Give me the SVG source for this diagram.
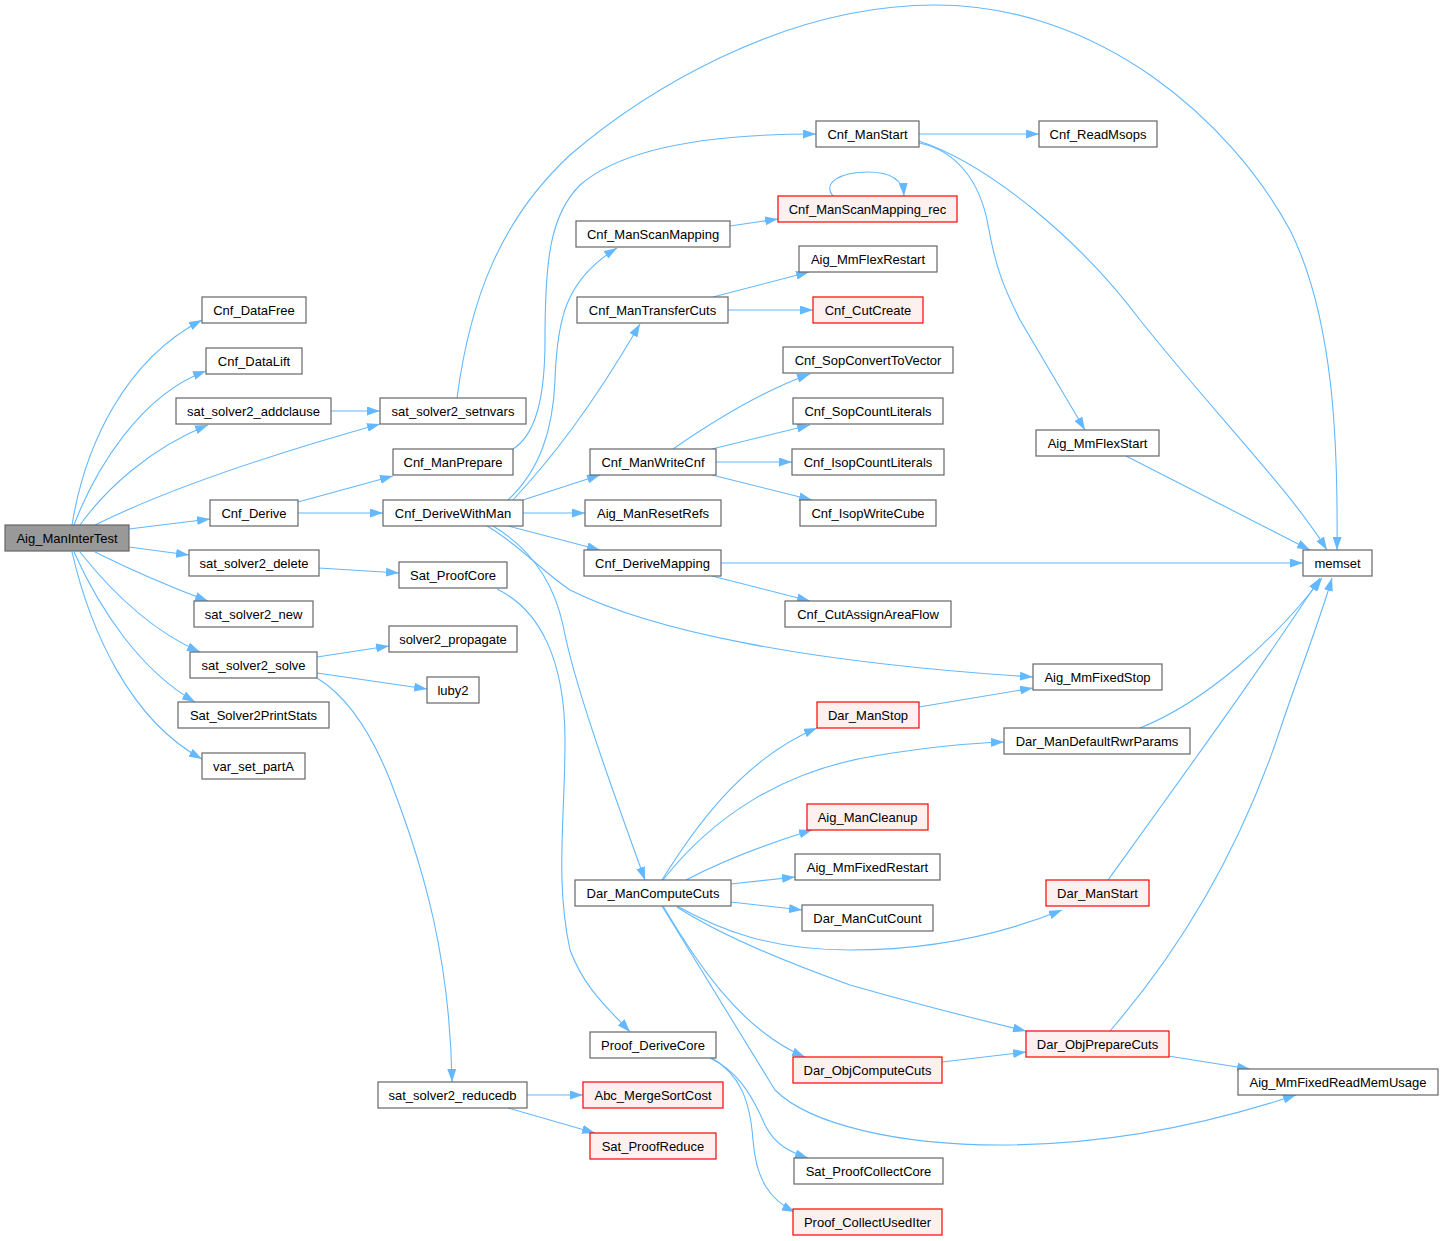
<svg xmlns="http://www.w3.org/2000/svg" width="1443" height="1241" viewBox="0 0 1443 1241">
<style>
.n rect{fill:#ffffff;stroke:#666666;stroke-width:1.2}
.r rect{fill:#fff0f0;stroke:#ff0000;stroke-width:1.2}
.root rect{fill:#999999;stroke:#666666;stroke-width:1.2}
text{font-family:"Liberation Sans",Arial,sans-serif;font-size:13px;fill:#000000;text-anchor:middle}
.e path{fill:none;stroke:#63b8ff;stroke-width:1.1;marker-end:url(#ah)}
</style>
<defs>
<marker id="ah" viewBox="0 0 13 9" markerWidth="13" markerHeight="9" refX="13" refY="4.5" orient="auto" markerUnits="userSpaceOnUse">
<polygon points="0,0 13,4.5 0,9" fill="#63b8ff"/>
</marker>
</defs>
<rect width="1443" height="1241" fill="#ffffff"/>
<g class="e" id="edges">
<path d="M72,525 C85,445 125,360 202,320"/>
<path d="M74,525 C95,470 140,395 206,371"/>
<path d="M80,525 C105,490 150,448 208,425"/>
<path d="M95,525 C170,488 280,452 380,424"/>
<path d="M129,529 L210,519"/>
<path d="M129,547 L189,555"/>
<path d="M95,552 C125,567 165,585 208,601"/>
<path d="M80,552 C110,590 150,630 200,652"/>
<path d="M74,552 C100,610 140,670 195,702"/>
<path d="M72,552 C90,630 130,720 202,759"/>
<path d="M331,411 L380,411"/>
<path d="M457,398 C470,300 500,220 570,155 C640,95 780,5 935,5 C1100,5 1230,120 1290,230 C1335,320 1338,450 1337,550"/>
<path d="M298,502 L393,476"/>
<path d="M298,513 L383,513"/>
<path d="M513,449 C535,435 545,400 545,340 C545,260 550,215 580,185 C620,150 700,134 816,134"/>
<path d="M508,500 C540,470 553,430 555,380 C557,320 565,280 617,248"/>
<path d="M513,500 C550,460 590,410 640,324"/>
<path d="M523,500 L600,475"/>
<path d="M523,513 L585,513"/>
<path d="M508,526 L600,550"/>
<path d="M487,526 C520,545 540,570 570,590 C650,630 800,662 1033,677"/>
<path d="M493,526 C525,545 552,575 563,625 C575,690 620,810 645,880"/>
<path d="M319,568 L399,573"/>
<path d="M497,589 C540,610 565,660 565,740 C565,820 555,880 570,950 C585,990 610,1010 630,1032"/>
<path d="M317,657 L389,646"/>
<path d="M317,673 L427,689"/>
<path d="M317,678 C345,695 370,730 390,780 C425,870 450,960 452,1082"/>
<path d="M527,1095 L583,1095"/>
<path d="M508,1108 L595,1133"/>
<path d="M710,1058 C735,1070 750,1090 765,1125 C775,1145 790,1152 808,1158"/>
<path d="M712,1058 C740,1075 750,1100 753,1140 C756,1180 770,1200 795,1212"/>
<path d="M919,134 L1039,134"/>
<path d="M919,143 C955,150 980,180 988,225 C996,270 1005,290 1020,320 L1085,430"/>
<path d="M919,141 C990,165 1080,240 1140,320 C1220,420 1290,490 1327,550"/>
<path d="M730,226 L778,219"/>
<path d="M833,196 C822,183 840,172 868,172 C890,172 903,180 904,196"/>
<path d="M713,297 L809,272"/>
<path d="M728,310 L813,310"/>
<path d="M673,449 C715,420 765,390 810,374"/>
<path d="M712,449 L810,425"/>
<path d="M716,462 L792,462"/>
<path d="M712,475 L812,500"/>
<path d="M721,563 L1303,563"/>
<path d="M712,576 L810,601"/>
<path d="M1126,456 L1310,550"/>
<path d="M919,707 L1033,688"/>
<path d="M1140,728 C1205,702 1275,640 1322,578"/>
<path d="M1108,880 C1180,780 1260,670 1320,578"/>
<path d="M1110,1031 C1180,950 1240,850 1280,730 C1300,670 1320,620 1332,578"/>
<path d="M1168,1056 L1250,1069"/>
<path d="M942,1062 L1026,1052"/>
<path d="M662,880 C690,835 740,760 817,728"/>
<path d="M663,880 C710,820 780,770 880,755 C930,747 970,743 1004,742"/>
<path d="M686,880 C720,862 770,843 812,830"/>
<path d="M731,884 L795,877"/>
<path d="M731,902 L802,910"/>
<path d="M677,906 C720,930 770,950 850,950 C930,950 1000,935 1062,910"/>
<path d="M677,907 C720,935 780,960 850,985 C920,1005 980,1020 1026,1031"/>
<path d="M663,906 C695,960 740,1030 805,1057"/>
<path d="M662,906 L775,1090 C810,1125 900,1145 1000,1145 C1120,1145 1220,1120 1296,1095"/>
</g>
<g id="Aig_ManInterTest" class="root"><rect x="5" y="525" width="124" height="26"/><text x="67" y="542.5">Aig_ManInterTest</text></g>
<g id="Cnf_DataFree" class="n"><rect x="202" y="297" width="104" height="26"/><text x="254" y="314.5">Cnf_DataFree</text></g>
<g id="Cnf_DataLift" class="n"><rect x="206" y="348" width="96" height="26"/><text x="254" y="365.5">Cnf_DataLift</text></g>
<g id="sat_solver2_addclause" class="n"><rect x="176" y="398" width="155" height="26"/><text x="253.5" y="415.5">sat_solver2_addclause</text></g>
<g id="sat_solver2_setnvars" class="n"><rect x="380" y="398" width="146" height="26"/><text x="453" y="415.5">sat_solver2_setnvars</text></g>
<g id="Cnf_Derive" class="n"><rect x="210" y="500" width="88" height="26"/><text x="254" y="517.5">Cnf_Derive</text></g>
<g id="Cnf_ManPrepare" class="n"><rect x="393" y="449" width="120" height="26"/><text x="453" y="466.5">Cnf_ManPrepare</text></g>
<g id="Cnf_DeriveWithMan" class="n"><rect x="383" y="500" width="140" height="26"/><text x="453" y="517.5">Cnf_DeriveWithMan</text></g>
<g id="sat_solver2_delete" class="n"><rect x="189" y="550" width="130" height="26"/><text x="254" y="567.5">sat_solver2_delete</text></g>
<g id="Sat_ProofCore" class="n"><rect x="399" y="562" width="108" height="26"/><text x="453" y="579.5">Sat_ProofCore</text></g>
<g id="sat_solver2_new" class="n"><rect x="194" y="601" width="119" height="26"/><text x="253.5" y="618.5">sat_solver2_new</text></g>
<g id="sat_solver2_solve" class="n"><rect x="190" y="652" width="127" height="26"/><text x="253.5" y="669.5">sat_solver2_solve</text></g>
<g id="solver2_propagate" class="n"><rect x="389" y="626" width="128" height="26"/><text x="453" y="643.5">solver2_propagate</text></g>
<g id="luby2" class="n"><rect x="427" y="677" width="52" height="26"/><text x="453" y="694.5">luby2</text></g>
<g id="Sat_Solver2PrintStats" class="n"><rect x="178" y="702" width="151" height="26"/><text x="253.5" y="719.5">Sat_Solver2PrintStats</text></g>
<g id="var_set_partA" class="n"><rect x="202" y="753" width="103" height="26"/><text x="253.5" y="770.5">var_set_partA</text></g>
<g id="sat_solver2_reducedb" class="n"><rect x="378" y="1082" width="149" height="26"/><text x="452.5" y="1099.5">sat_solver2_reducedb</text></g>
<g id="Abc_MergeSortCost" class="r"><rect x="583" y="1082" width="140" height="26"/><text x="653" y="1099.5">Abc_MergeSortCost</text></g>
<g id="Sat_ProofReduce" class="r"><rect x="590" y="1133" width="126" height="26"/><text x="653" y="1150.5">Sat_ProofReduce</text></g>
<g id="Proof_DeriveCore" class="n"><rect x="590" y="1032" width="126" height="26"/><text x="653" y="1049.5">Proof_DeriveCore</text></g>
<g id="Cnf_ManStart" class="n"><rect x="816" y="121" width="103" height="26"/><text x="867.5" y="138.5">Cnf_ManStart</text></g>
<g id="Cnf_ReadMsops" class="n"><rect x="1039" y="121" width="118" height="26"/><text x="1098" y="138.5">Cnf_ReadMsops</text></g>
<g id="Cnf_ManScanMapping" class="n"><rect x="576" y="221" width="154" height="26"/><text x="653" y="238.5">Cnf_ManScanMapping</text></g>
<g id="Cnf_ManScanMapping_rec" class="r"><rect x="778" y="196" width="179" height="26"/><text x="867.5" y="213.5">Cnf_ManScanMapping_rec</text></g>
<g id="Aig_MmFlexRestart" class="n"><rect x="799" y="246" width="138" height="26"/><text x="868" y="263.5">Aig_MmFlexRestart</text></g>
<g id="Cnf_ManTransferCuts" class="n"><rect x="577" y="297" width="151" height="26"/><text x="652.5" y="314.5">Cnf_ManTransferCuts</text></g>
<g id="Cnf_CutCreate" class="r"><rect x="813" y="297" width="110" height="26"/><text x="868" y="314.5">Cnf_CutCreate</text></g>
<g id="Cnf_ManWriteCnf" class="n"><rect x="590" y="449" width="126" height="26"/><text x="653" y="466.5">Cnf_ManWriteCnf</text></g>
<g id="Cnf_SopConvertToVector" class="n"><rect x="783" y="347" width="170" height="26"/><text x="868" y="364.5">Cnf_SopConvertToVector</text></g>
<g id="Cnf_SopCountLiterals" class="n"><rect x="793" y="398" width="150" height="26"/><text x="868" y="415.5">Cnf_SopCountLiterals</text></g>
<g id="Cnf_IsopCountLiterals" class="n"><rect x="792" y="449" width="152" height="26"/><text x="868" y="466.5">Cnf_IsopCountLiterals</text></g>
<g id="Cnf_IsopWriteCube" class="n"><rect x="800" y="500" width="136" height="26"/><text x="868" y="517.5">Cnf_IsopWriteCube</text></g>
<g id="Aig_ManResetRefs" class="n"><rect x="585" y="500" width="136" height="26"/><text x="653" y="517.5">Aig_ManResetRefs</text></g>
<g id="Cnf_DeriveMapping" class="n"><rect x="584" y="550" width="137" height="26"/><text x="652.5" y="567.5">Cnf_DeriveMapping</text></g>
<g id="Cnf_CutAssignAreaFlow" class="n"><rect x="785" y="601" width="166" height="26"/><text x="868" y="618.5">Cnf_CutAssignAreaFlow</text></g>
<g id="Aig_MmFlexStart" class="n"><rect x="1036" y="430" width="123" height="26"/><text x="1097.5" y="447.5">Aig_MmFlexStart</text></g>
<g id="memset" class="n"><rect x="1303" y="550" width="69" height="26"/><text x="1337.5" y="567.5">memset</text></g>
<g id="Aig_MmFixedStop" class="n"><rect x="1033" y="664" width="129" height="26"/><text x="1097.5" y="681.5">Aig_MmFixedStop</text></g>
<g id="Dar_ManComputeCuts" class="n"><rect x="575" y="880" width="156" height="26"/><text x="653" y="897.5">Dar_ManComputeCuts</text></g>
<g id="Dar_ManStop" class="r"><rect x="817" y="702" width="102" height="26"/><text x="868" y="719.5">Dar_ManStop</text></g>
<g id="Dar_ManDefaultRwrParams" class="n"><rect x="1004" y="728" width="186" height="26"/><text x="1097" y="745.5">Dar_ManDefaultRwrParams</text></g>
<g id="Aig_ManCleanup" class="r"><rect x="807" y="804" width="121" height="26"/><text x="867.5" y="821.5">Aig_ManCleanup</text></g>
<g id="Aig_MmFixedRestart" class="n"><rect x="795" y="854" width="145" height="26"/><text x="867.5" y="871.5">Aig_MmFixedRestart</text></g>
<g id="Dar_ManCutCount" class="n"><rect x="802" y="905" width="131" height="26"/><text x="867.5" y="922.5">Dar_ManCutCount</text></g>
<g id="Dar_ManStart" class="r"><rect x="1046" y="880" width="103" height="26"/><text x="1097.5" y="897.5">Dar_ManStart</text></g>
<g id="Dar_ObjPrepareCuts" class="r"><rect x="1026" y="1031" width="143" height="26"/><text x="1097.5" y="1048.5">Dar_ObjPrepareCuts</text></g>
<g id="Dar_ObjComputeCuts" class="r"><rect x="793" y="1057" width="149" height="26"/><text x="867.5" y="1074.5">Dar_ObjComputeCuts</text></g>
<g id="Aig_MmFixedReadMemUsage" class="n"><rect x="1238" y="1069" width="200" height="26"/><text x="1338" y="1086.5">Aig_MmFixedReadMemUsage</text></g>
<g id="Sat_ProofCollectCore" class="n"><rect x="794" y="1158" width="149" height="26"/><text x="868.5" y="1175.5">Sat_ProofCollectCore</text></g>
<g id="Proof_CollectUsedIter" class="r"><rect x="793" y="1209" width="149" height="26"/><text x="867.5" y="1226.5">Proof_CollectUsedIter</text></g>
</svg>
